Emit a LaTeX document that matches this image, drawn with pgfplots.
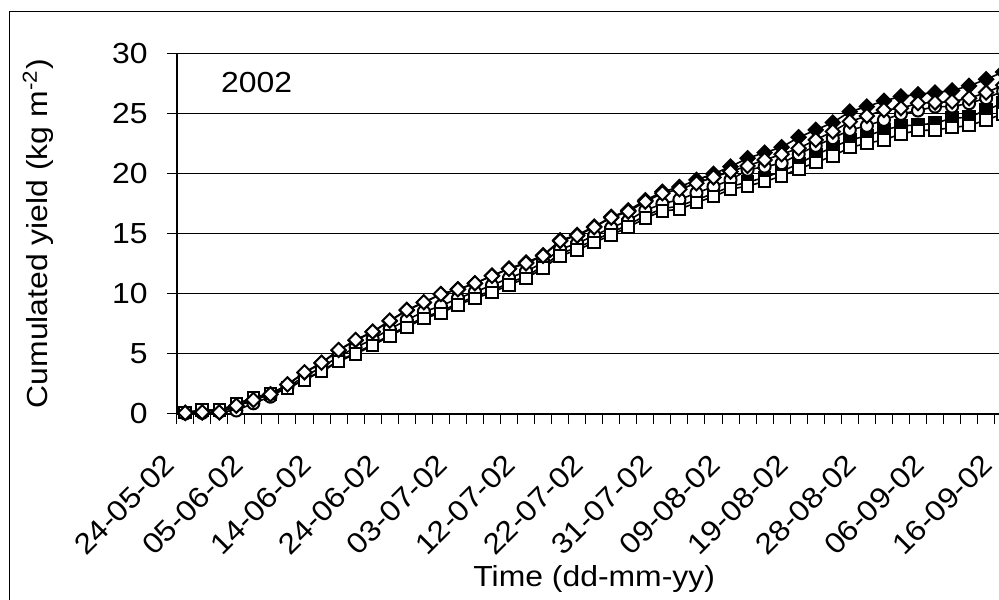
\documentclass[border=0pt]{standalone}
\usepackage{fontspec}
\setmainfont{Liberation Sans}[FakeStretch=1.1]
\usepackage{pgfplots}
\pgfplotsset{compat=1.18}
\usepackage{pgfplotstable}

\pgfplotstableread{
c  FD    OD    OC    FS    OS
1  0.05  0.05  0.00  0.10  0.10
2  0.10  0.10  0.05  0.25  0.29
3  0.10  0.10  0.15  0.25  0.29
4  0.60  0.65  0.25  0.75  0.79
5  1.10  1.13  0.85  1.30  1.35
6  1.60  1.60  1.40  1.65  1.68
7  2.40  2.43  2.20  2.15  2.10
8  3.40  3.44  3.10  2.85  2.80
9  4.20  4.24  3.85  3.55  3.49
10 5.25  5.30  4.75  4.40  4.33
11 6.10  6.14  5.50  5.05  4.97
12 6.80  6.83  6.20  5.75  5.66
13 7.70  7.75  7.05  6.55  6.47
14 8.60  8.64  7.80  7.30  7.19
15 9.25  9.28  8.50  8.05  7.94
16 9.95  9.97  8.97  8.50  8.36
17 10.35 10.36 9.60  9.20  9.06
18 10.85 10.87 10.15 9.75  9.61
19 11.50 11.48 10.70 10.25 10.09
20 12.10 12.06 11.30 10.90 10.73
21 12.60 12.53 11.85 11.45 11.28
22 13.20 13.15 12.60 12.30 12.12
23 14.45 14.40 13.70 13.35 13.15
24 14.90 14.84 14.20 13.85 13.65
25 15.60 15.54 14.85 14.45 14.26
26 16.40 16.35 15.50 15.10 14.90
27 16.95 16.85 16.10 15.75 15.54
28 17.80 17.68 16.95 16.50 16.29
29 18.50 18.38 17.50 17.10 16.90
30 18.90 18.71 17.85 17.30 17.04
31 19.50 19.21 18.40 17.85 17.60
32 20.00 19.71 18.93 18.35 18.10
33 20.60 20.19 19.50 18.95 18.71
34 21.30 20.66 20.33 19.30 18.99
35 21.77 21.16 20.60 19.70 19.35
36 22.22 21.63 20.88 20.20 19.82
37 23.05 22.13 21.63 20.85 20.41
38 23.66 22.83 22.33 21.58 20.94
39 24.28 23.53 22.97 22.22 21.49
40 25.19 24.36 23.66 22.83 22.19
41 25.61 24.83 24.00 23.16 22.55
42 26.09 25.33 24.50 23.66 22.83
43 26.45 25.47 25.00 24.00 23.33
44 26.64 25.89 25.28 24.08 23.61
45 26.78 25.95 25.61 24.22 23.66
46 26.95 26.03 25.61 24.64 23.86
47 27.34 26.31 25.89 24.72 24.03
48 27.89 26.78 26.31 25.33 24.50
49 28.50 27.40 26.90 25.90 25.00
}\yielddata

\begin{document}
\fontsize{14.5}{17.4}\selectfont
\begin{tikzpicture}
\useasboundingbox (0,0) rectangle (499.5pt,299.5pt);
\clip (0,0) rectangle (499.5pt,299.5pt);
\draw[line width=0.5pt] (4.5pt,-2pt) -- (4.5pt,293.5pt) -- (502pt,293.5pt);
\begin{axis}[
  at={(88.35pt,92.75pt)}, anchor=south west,
  scale only axis, width=417.5pt, height=179.75pt,
  xmin=0.5, xmax=49.5, ymin=0, ymax=30,
  clip=false,
  axis x line*=bottom, axis y line*=left,
  axis line style={-, line width=1pt, black},
  ytick={0,5,...,30},
  ymajorgrids, grid style={black, line width=0.5pt},
  tick align=outside, major tick length=5pt,
  tick style={black, line width=0.5pt},
  xtick={0.5,1.5,...,49.5}, xticklabels={},
  extra x ticks={1,5,...,49},
  extra x tick labels={24-05-02,05-06-02,14-06-02,24-06-02,03-07-02,12-07-02,22-07-02,31-07-02,09-08-02,19-08-02,28-08-02,06-09-02,16-09-02},
  extra x tick style={major tick length=0pt,
    xticklabel style={xshift=-11.5pt, yshift=-19.1pt, rotate=45, anchor=north east, inner sep=0pt}},
  yticklabel style={inner sep=0pt, anchor=east, xshift=-9.35pt},
  /pgf/number format/assume math mode=true,
  xlabel={Time (dd-mm-yy)},
  xlabel style={at={(axis description cs:0.5,0)}, anchor=base, yshift=-86.25pt, inner sep=0pt},
  ylabel={Cumulated yield (kg m\textsuperscript{-2})},
  ylabel style={at={(axis description cs:-0.166,0.5)}, anchor=center, inner sep=0pt},
]
\addplot[black, line width=0.8pt, mark=square*, mark size=2.5pt, mark options={rotate=45, fill=black, line width=1pt}] table[x=c,y=FD]{\yielddata};
\addplot[black, line width=0.8pt, mark=square*, mark size=2.9pt, mark options={fill=black, line width=1pt}] table[x=c,y=FS]{\yielddata};
\addplot[black, line width=0.8pt, mark=*, mark size=3.0pt, mark options={fill=white, line width=1pt}] table[x=c,y=OC]{\yielddata};
\addplot[black, line width=0.8pt, mark=square*, mark size=2.9pt, mark options={fill=white, line width=1pt}] table[x=c,y=OS]{\yielddata};
\addplot[black, line width=0.8pt, mark=square*, mark size=2.5pt, mark options={rotate=45, fill=white, line width=1pt}] table[x=c,y=OD]{\yielddata};
\node[anchor=base west, inner sep=0pt] at (rel axis cs:0.0527,0.8924) {2002};
\end{axis}
\end{tikzpicture}
\end{document}
